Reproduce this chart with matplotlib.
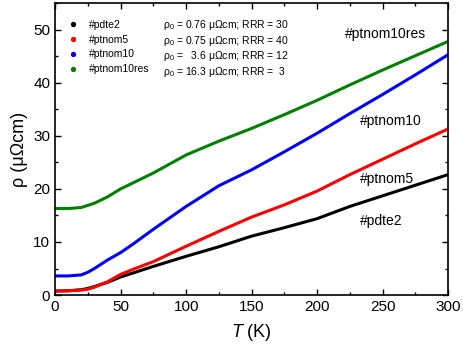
import numpy as np
import matplotlib
matplotlib.use("Agg")
import matplotlib.pyplot as plt
from matplotlib.lines import Line2D

plt.rcParams['font.family'] = ['Liberation Sans', 'DejaVu Sans']
plt.rcParams['mathtext.fontset'] = 'custom'
plt.rcParams['mathtext.rm'] = 'Liberation Sans'
plt.rcParams['mathtext.it'] = 'Liberation Sans:italic'

# temperature (K) and resistivity (uOhm cm)
T = [0, 10, 20, 25, 30, 40, 50, 60, 75, 100, 125, 150, 175, 200, 225, 250, 275, 300]
rho_pdte2 = [0.76, 0.8, 1.0, 1.25, 1.6, 2.4, 3.4, 4.2, 5.4, 7.3, 9.1, 11.1, 12.7,
             14.4, 16.7, 18.7, 20.7, 22.7]
rho_ptnom5 = [0.75, 0.8, 0.95, 1.1, 1.5, 2.5, 3.9, 4.9, 6.3, 9.2, 12.0, 14.7, 17.0,
              19.6, 22.7, 25.6, 28.5, 31.3]
rho_ptnom10 = [3.6, 3.6, 3.8, 4.3, 5.0, 6.6, 8.0, 9.7, 12.4, 16.7, 20.6, 23.6, 27.0,
               30.5, 34.2, 37.8, 41.5, 45.3]
rho_ptnom10res = [16.3, 16.3, 16.5, 16.9, 17.3, 18.5, 20.0, 21.2, 23.0, 26.4, 29.0,
                  31.4, 34.0, 36.7, 39.6, 42.4, 45.1, 47.8]

names = ['#pdte2', '#ptnom5', '#ptnom10', '#ptnom10res']
rho0_text = [r'ρ$_0$ = 0.76 μΩcm; RRR = 30',
             r'ρ$_0$ = 0.75 μΩcm; RRR = 40',
             r'ρ$_0$ =   3.6 μΩcm; RRR = 12',
             r'ρ$_0$ = 16.3 μΩcm; RRR =  3']
colors = ['black', 'red', 'blue', 'green']
series = [rho_pdte2, rho_ptnom5, rho_ptnom10, rho_ptnom10res]

fig = plt.figure(figsize=(4.63, 3.5), dpi=100)
ax = fig.add_axes([0.119, 0.157, 0.849, 0.834])

for s, c in zip(series, colors):
    ax.plot(T, s, color=c, lw=2.2, solid_capstyle='round')

# curve labels on the right
ax.text(221, 49.2, '#ptnom10res', fontsize=10, va='center')
ax.text(233, 32.8, '#ptnom10', fontsize=10, va='center')
ax.text(233, 21.9, '#ptnom5', fontsize=10, va='center')
ax.text(233, 14.0, '#pdte2', fontsize=10, va='center')

# legend
handles = [Line2D([], [], ls='none', marker='o', ms=2.8, color=c) for c in colors]
leg = ax.legend(handles, names, loc='upper left', bbox_to_anchor=(0.02, 0.957),
                frameon=False, fontsize=7.5, handlelength=1.2, handletextpad=0.9,
                labelspacing=0.46, borderaxespad=0)
rows_y = [0.925, 0.870, 0.818, 0.764]
for yy, txt in zip(rows_y, rho0_text):
    ax.text(0.275, yy, txt, transform=ax.transAxes, fontsize=7.5, va='center')

ax.set_xlim(0, 300)
ax.set_ylim(0, 55)
ax.set_xticks(np.arange(0, 301, 50))
ax.set_xticks(np.arange(0, 301, 25), minor=True)
ax.set_yticks(np.arange(0, 51, 10))
ax.set_yticks(np.arange(0, 56, 5), minor=True)
ax.tick_params(which='both', direction='in', top=True, right=True, labelsize=11)
ax.tick_params(which='major', length=4, width=1)
ax.tick_params(which='minor', length=2.5, width=1)
for sp in ax.spines.values():
    sp.set_linewidth(1.2)

ax.set_xlabel('$T$ (K)', fontsize=13, labelpad=6)
ax.set_ylabel('ρ (μΩcm)', fontsize=13, labelpad=4)

fig.savefig('out.png', dpi=100)
